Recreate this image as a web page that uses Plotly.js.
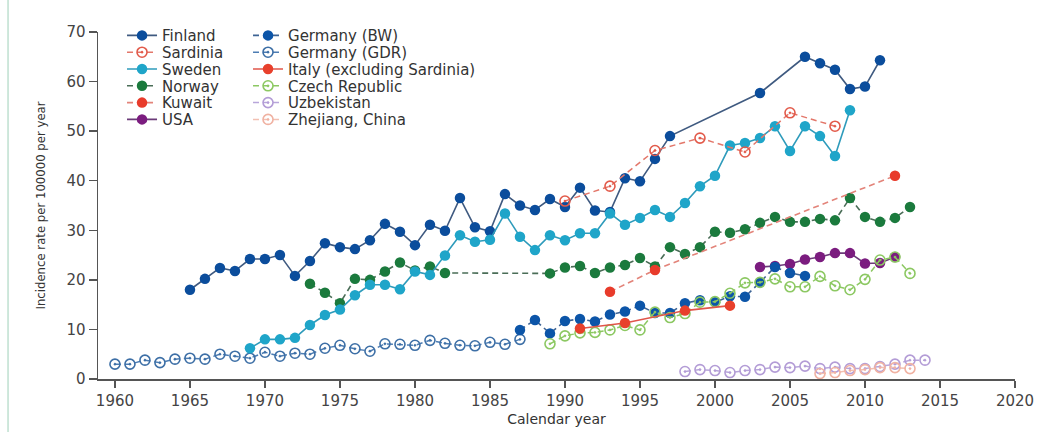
<!DOCTYPE html>
<html><head><meta charset="utf-8">
<script src="https://cdn.plot.ly/plotly-3.0.1.min.js"></script>
<style>html,body{margin:0;padding:0;background:#fff}#chart{width:1044px;height:432px}</style>
</head><body><div id="chart"></div>
<script>
// ---- data ----
const finlandYears = [1965,1966,1967,1968,1969,1970,1971,1972,1973,1974,1975,1976,1977,1978,1979,1980,1981,1982,1983,1984,1985,1986,1987,1988,1989,1990,1991,1992,1993,1994,1995,1996,1997,2003,2006,2007,2008,2009,2010,2011];
const finlandRates = [18.0,20.2,22.4,21.8,24.2,24.2,25.0,20.8,23.8,27.4,26.6,26.2,28.0,31.3,29.7,27.0,31.1,29.9,36.5,30.6,29.8,37.3,35.0,34.1,36.3,34.7,38.6,34.0,33.7,40.5,39.9,44.4,49.0,57.7,65.0,63.7,62.4,58.5,59.0,64.3];

const sardiniaYears = [1990,1993,1996,1999,2002,2005,2008];
const sardiniaRates = [35.9,38.9,46.1,48.6,45.8,53.7,51.0];

const swedenYears = [1969,1970,1971,1972,1973,1974,1975,1976,1977,1978,1979,1980,1981,1982,1983,1984,1985,1986,1987,1988,1989,1990,1991,1992,1993,1994,1995,1996,1997,1998,1999,2000,2001,2002,2003,2004,2005,2006,2007,2008,2009];
const swedenRates = [6.2,8.0,8.0,8.3,10.9,12.9,14.0,16.9,19.0,19.0,18.1,21.7,21.0,24.9,29.0,27.7,28.1,33.4,28.7,26.0,29.0,28.0,29.4,29.4,33.4,31.1,32.5,34.1,32.7,35.5,38.9,41.0,47.1,47.6,48.6,51.0,46.0,51.0,49.0,45.0,54.2];

const norwayYears = [1973,1974,1975,1976,1977,1978,1979,1980,1981,1982,1989,1990,1991,1992,1993,1994,1995,1996,1997,1998,1999,2000,2001,2002,2003,2004,2005,2006,2007,2008,2009,2010,2011,2012,2013];
const norwayRates = [19.2,17.4,15.3,20.2,20.0,21.7,23.5,21.9,22.7,21.4,21.3,22.5,22.8,21.4,22.5,23.0,24.4,22.7,26.6,25.2,26.6,29.7,29.5,30.2,31.5,32.7,31.7,31.7,32.3,32.0,36.5,32.7,31.7,32.5,34.7];

const kuwaitYears = [1993,1996,2012];
const kuwaitRates = [17.6,22.0,41.0];

const usaYears = [2003,2004,2005,2006,2007,2008,2009,2010,2011,2012];
const usaRates = [22.6,22.8,23.2,24.1,24.6,25.4,25.4,23.3,23.4,24.6];

const germanyBWYears = [1987,1988,1989,1990,1991,1992,1993,1994,1995,1996,1997,1998,1999,2000,2001,2002,2003,2004,2005,2006];
const germanyBWRates = [9.9,11.9,9.2,11.7,12.1,11.6,13.0,13.6,14.8,13.3,13.3,15.3,15.9,15.5,16.7,16.6,19.5,22.6,21.4,20.8];

const germanyGDRYears = [1960,1961,1962,1963,1964,1965,1966,1967,1968,1969,1970,1971,1972,1973,1974,1975,1976,1977,1978,1979,1980,1981,1982,1983,1984,1985,1986,1987];
const germanyGDRRates = [3.0,3.0,3.8,3.3,4.0,4.2,4.0,5.0,4.6,4.2,5.4,4.6,5.2,5.0,6.2,6.8,6.1,5.6,7.1,7.0,6.8,7.8,7.2,6.8,6.7,7.4,7.0,8.0];

const italyYears = [1991,1994,1998,2001];
const italyRates = [10.2,11.3,13.8,14.8];

const czechYears = [1989,1990,1991,1992,1993,1994,1995,1996,1997,1998,1999,2000,2001,2002,2003,2004,2005,2006,2007,2008,2009,2010,2011,2012,2013];
const czechRates = [7.1,8.7,9.3,9.4,9.9,10.8,9.9,13.5,12.4,13.2,15.5,15.6,17.3,19.4,19.5,20.2,18.6,18.6,20.7,18.8,18.0,20.1,24.0,24.6,21.3];

const uzbekYears = [1998,1999,2000,2001,2002,2003,2004,2005,2006,2007,2008,2009,2010,2011,2012,2013,2014];
const uzbekRates = [1.5,1.9,1.7,1.3,1.7,1.9,2.4,2.3,2.6,2.1,2.4,2.1,2.1,2.5,3.0,3.8,3.8];

const zhejiangYears = [2007,2008,2009,2010,2011,2012,2013];
const zhejiangRates = [1.1,1.3,1.7,1.9,2.3,2.3,2.1];

const xTicks = [1960,1965,1970,1975,1980,1985,1990,1995,2000,2005,2010,2015,2020];
const yTicks = [0,10,20,30,40,50,60,70];

// ---- styling helpers ----
const DASH = '6px,4px';
function filled(name, x, y, mcol, lcol, dash, legend, rank) {
  return {type:'scatter', mode:'lines+markers', name:name, x:x, y:y,
    legend:legend, legendrank:rank, cliponaxis:false,
    line:{color:lcol, width:1.6, dash:dash},
    marker:{symbol:'circle', size:10.5, color:mcol, line:{width:0}}};
}
function open(name, x, y, mcol, lcol, legend, rank) {
  return {type:'scatter', mode:'lines+markers', name:name, x:x, y:y,
    legend:legend, legendrank:rank, cliponaxis:false,
    line:{color:lcol, width:1.5, dash:DASH},
    marker:{symbol:'circle-open-dot', size:10, color:mcol, line:{width:1.6, color:mcol}}};
}

const data = [
  filled('USA', usaYears, usaRates, '#7b1c7f', '#6b3a78', 'solid', 'legend', 6),
  open('Germany (GDR)', germanyGDRYears, germanyGDRRates, '#3d6fa6', '#4d7db3', 'legend2', 2),
  open('Uzbekistan', uzbekYears, uzbekRates, '#b39cd6', '#b8a6da', 'legend2', 5),
  open('Zhejiang, China', zhejiangYears, zhejiangRates, '#f0b2a2', '#f2c0b2', 'legend2', 6),
  filled('Germany (BW)', germanyBWYears, germanyBWRates, '#0c55a8', '#3d6394', DASH, 'legend2', 1),
  open('Czech Republic', czechYears, czechRates, '#8cc862', '#8cc862', 'legend2', 4),
  filled('Italy (excluding Sardinia)', italyYears, italyRates, '#e8402c', '#e0564a', 'solid', 'legend2', 3),
  filled('Norway', norwayYears, norwayRates, '#1b7a3d', '#4a6d57', DASH, 'legend', 4),
  filled('Kuwait', kuwaitYears, kuwaitRates, '#e83b2b', '#e3847a', DASH, 'legend', 5),
  filled('Finland', finlandYears, finlandRates, '#0b4d9c', '#3f5a80', 'solid', 'legend', 1),
  filled('Sweden', swedenYears, swedenRates, '#1fa5c9', '#2e9bbb', 'solid', 'legend', 3),
  open('Sardinia', sardiniaYears, sardiniaRates, '#e25a4a', '#e3776a', 'legend', 2)
];

const axisCommon = {showline:true, linecolor:'#555', linewidth:1.5, ticks:'outside',
  tickcolor:'#555', tickwidth:1.5, showgrid:false, zeroline:false,
  tickfont:{family:'DejaVu Sans', size:15, color:'#444'}};

const layout = {
  width:1044, height:432,
  margin:{l:98, r:29, t:32, b:53},
  paper_bgcolor:'#fff', plot_bgcolor:'#fff',
  font:{family:'DejaVu Sans', color:'#333'},
  xaxis: Object.assign({}, axisCommon, {range:[1958.87,2020], tickvals:xTicks, ticktext:xTicks.map(String), ticklen:7,
    title:{text:'Calendar year', font:{family:'DejaVu Sans', size:14, color:'#333'}, standoff:5}}),
  yaxis: Object.assign({}, axisCommon, {range:[0,70], tickvals:yTicks, ticktext:yTicks.map(String), ticklen:8,
    title:{text:'Incidence rate per 100000 per year', font:{family:'DejaVu Sans Condensed, Liberation Sans, sans-serif', size:13, color:'#333'}, standoff:18}}),
  legend:{x:0.0262, xanchor:'left', y:1.037, yanchor:'top', bgcolor:'rgba(0,0,0,0)',
    font:{family:'DejaVu Sans', size:15, color:'#333'}, itemwidth:30, traceorder:'normal'},
  legend2:{x:0.1636, xanchor:'left', y:1.037, yanchor:'top', bgcolor:'rgba(0,0,0,0)',
    font:{family:'DejaVu Sans', size:15, color:'#333'}, itemwidth:30, traceorder:'normal'},
  shapes:[{type:'line', xref:'paper', yref:'paper', x0:-0.0981, x1:-0.0981, y0:-0.16, y1:1.1,
    line:{color:'#bfe0d0', width:1.5}}]
};

const ROW = 16.8;
Plotly.newPlot('chart', data, layout, {staticPlot:true, displayModeBar:false}).then(function(gd){
  ['legend','legend2'].forEach(function(id){
    var items = gd.querySelectorAll('.infolayer g.' + id + ' g.traces');
    var y0 = null;
    items.forEach(function(el, i){
      var t = el.getAttribute('transform') || '';
      var m = /translate\(\s*([-\d.e]+)[\s,]+([-\d.e]+)\s*\)/.exec(t);
      if(!m) return;
      var x = +m[1], y = +m[2];
      if(y0 === null) y0 = y;
      el.setAttribute('transform', 'translate(' + x + ',' + (y0 + i*ROW) + ')');
    });
  });
});
</script>
</body></html>
